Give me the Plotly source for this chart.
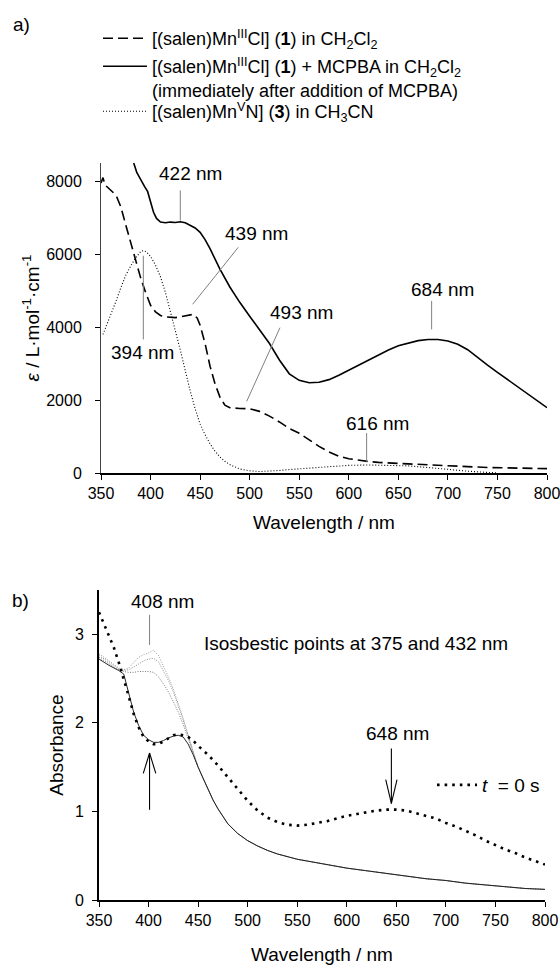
import plotly.graph_objects as go

# ---------------- Panel a) data ----------------
wl_dash = [350, 352, 354, 358, 362, 366, 370, 375, 380, 385, 390, 395, 400, 405, 410, 415, 420, 425,
           430, 435, 440, 443, 447, 450, 455, 460, 465, 470, 475, 480, 490, 500, 510, 520, 530, 540,
           550, 560, 570, 580, 590, 600, 610, 620, 630, 640, 660, 680, 700, 720, 740, 760, 780, 800]
eps_dash = [7950, 8100, 7900, 7800, 7700, 7560, 7300, 6800, 6300, 5800, 5350, 4950, 4600, 4420, 4320,
            4280, 4260, 4260, 4280, 4310, 4350, 4350, 4250, 4050, 3550, 2930, 2450, 2080, 1860, 1790,
            1770, 1760, 1690, 1560, 1400, 1220, 1090, 900, 730, 580, 460, 390, 345, 315, 290, 270, 250,
            225, 195, 168, 150, 140, 130, 120]

wl_solid = [383, 386, 388, 391, 394, 397, 400, 403, 406, 410, 415, 420, 425, 430, 435, 440, 445, 450,
            455, 460, 465, 470, 480, 490, 500, 510, 520, 530, 540, 550, 560, 570, 580, 590, 600, 610,
            620, 630, 640, 650, 660, 670, 680, 690, 700, 710, 720, 730, 740, 750, 760, 770, 780, 790, 800]
eps_solid = [8500, 8250, 8150, 7980, 7850, 7720, 7400, 7150, 6980, 6880, 6860, 6880, 6870, 6890, 6860,
             6800, 6720, 6600, 6400, 6150, 5870, 5590, 5100, 4680, 4300, 3930, 3550, 3100, 2720, 2540,
             2475, 2490, 2560, 2680, 2820, 2950, 3090, 3230, 3370, 3490, 3570, 3630, 3660, 3660, 3620,
             3530, 3380, 3160, 2960, 2760, 2570, 2380, 2180, 1980, 1790]

wl_dot = [352, 355, 360, 365, 370, 375, 380, 385, 390, 393, 396, 400, 405, 410, 415, 420, 425, 430,
          435, 440, 445, 450, 455, 460, 465, 470, 475, 480, 490, 500, 510, 520, 530, 540, 550, 560,
          570, 580, 590, 600, 620, 640, 660, 680, 700, 720, 740, 750]
eps_dot = [3800, 4000, 4350, 4700, 5080, 5420, 5680, 5900, 6070, 6100, 6060, 5940, 5700, 5380, 4950,
           4450, 3900, 3370, 2800, 2250, 1760, 1340, 1050, 800, 600, 440, 320, 230, 110, 60, 40, 50,
           70, 95, 115, 140, 160, 180, 195, 210, 220, 215, 195, 150, 95, 50, 15, 5]

# ---------------- Panel b) data ----------------
wl_early = [350, 355, 360, 365, 370, 375, 380, 385, 390, 395, 400, 405, 410, 415, 420, 425, 430, 435,
            440, 445, 450, 455, 460]
abs_a = [2.78, 2.74, 2.70, 2.66, 2.62, 2.60, 2.62, 2.68, 2.74, 2.77, 2.79, 2.82, 2.76, 2.64, 2.52,
         2.38, 2.22, 2.05, 1.86, 1.67, 1.50, 1.37, 1.25]
abs_b = [2.76, 2.72, 2.68, 2.64, 2.61, 2.59, 2.60, 2.63, 2.67, 2.70, 2.72, 2.73, 2.69, 2.59, 2.48,
         2.35, 2.20, 2.03, 1.85, 1.67, 1.50, 1.37, 1.25]
abs_c = [2.74, 2.70, 2.66, 2.63, 2.60, 2.58, 2.57, 2.57, 2.58, 2.58, 2.58, 2.57, 2.52, 2.44, 2.35,
         2.24, 2.12, 1.98, 1.82, 1.66, 1.50, 1.37, 1.25]
abs_d = [2.72, 2.68, 2.65, 2.62, 2.59, 2.55, 2.32, 2.12, 1.97, 1.86, 1.81, 1.78, 1.78, 1.80, 1.83,
         1.85, 1.86, 1.84, 1.76, 1.64, 1.50, 1.37, 1.25]
wl_tail = [465, 470, 475, 480, 490, 500, 510, 520, 530, 540, 550, 560, 570, 580, 600, 620, 640, 660,
           680, 700, 720, 740, 760, 780, 800]
abs_tail = [1.13, 1.03, 0.94, 0.86, 0.75, 0.67, 0.61, 0.56, 0.52, 0.49, 0.46, 0.44, 0.42, 0.40, 0.36,
            0.33, 0.30, 0.27, 0.24, 0.22, 0.19, 0.17, 0.15, 0.13, 0.12]

wl_t0 = [350, 355, 360, 365, 370, 375, 380, 385, 390, 395, 400, 405, 410, 415, 420, 425, 430, 435,
         440, 445, 450, 460, 470, 480, 490, 500, 510, 520, 530, 540, 550, 560, 570, 580, 590, 600,
         610, 620, 630, 640, 650, 660, 670, 680, 690, 700, 710, 720, 730, 740, 750, 760, 770, 780,
         790, 800]
abs_t0 = [3.25, 3.12, 3.00, 2.85, 2.68, 2.50, 2.30, 2.10, 1.95, 1.84, 1.79, 1.76, 1.76, 1.79, 1.83,
          1.86, 1.87, 1.86, 1.84, 1.80, 1.74, 1.64, 1.52, 1.39, 1.25, 1.12, 1.01, 0.93, 0.88, 0.85,
          0.84, 0.85, 0.87, 0.89, 0.92, 0.95, 0.97, 0.99, 1.01, 1.02, 1.02, 1.01, 0.98, 0.95, 0.92,
          0.87, 0.83, 0.78, 0.73, 0.67, 0.62, 0.57, 0.53, 0.48, 0.44, 0.40]

x_ticks = [350, 400, 450, 500, 550, 600, 650, 700, 750, 800]
eps_ticks = [0, 2000, 4000, 6000, 8000]
abs_ticks = [0, 1, 2, 3]

FONT = "Liberation Sans, Arial, sans-serif"
W, H = 560, 965

fig = go.Figure()

leg_names = [
    "[(salen)Mn<sup>III</sup>Cl] (<b>1</b>) in CH<sub>2</sub>Cl<sub>2</sub>",
    "[(salen)Mn<sup>III</sup>Cl] (<b>1</b>) + MCPBA in CH<sub>2</sub>Cl<sub>2</sub>",
    "[(salen)Mn<sup>V</sup>N] (<b>3</b>) in CH<sub>3</sub>CN",
]
leg_note = "(immediately after addition of MCPBA)"

fig.add_trace(go.Scatter(x=wl_dash, y=eps_dash, mode="lines", name=leg_names[0],
                         line=dict(color="black", width=1.6, dash="10px,5px"),
                         xaxis="x", yaxis="y", legend="legend"))
fig.add_trace(go.Scatter(x=wl_solid, y=eps_solid, mode="lines", name=leg_names[1],
                         line=dict(color="black", width=1.6),
                         xaxis="x", yaxis="y", legend="legend3"))
fig.add_trace(go.Scatter(x=wl_dot, y=eps_dot, mode="lines", name=leg_names[2],
                         line=dict(color="black", width=1.1, dash="1px,2px"),
                         xaxis="x", yaxis="y", legend="legend4"))

for vals, col, wd, ds in [(abs_a, "#9a9a9a", 1.0, "1px,1.5px"), (abs_b, "#8a8a8a", 1.0, "1px,1.5px"),
                          (abs_c, "#7a7a7a", 1.0, "1px,1.5px"), (abs_d, "#111111", 0.9, "solid")]:
    fig.add_trace(go.Scatter(x=wl_early + wl_tail, y=vals + abs_tail, mode="lines",
                             line=dict(color=col, width=wd, dash=ds), showlegend=False,
                             xaxis="x2", yaxis="y2"))

fig.add_trace(go.Scatter(x=wl_t0, y=abs_t0, mode="lines", name="<i>t</i>  = 0 s",
                         line=dict(color="black", width=2.6, dash="2.6px,5px"),
                         xaxis="x2", yaxis="y2", legend="legend2"))

axis_common = dict(showgrid=False, zeroline=False, showline=True, automargin=False,
                   ticks="outside", ticklen=5, tickcolor="black", tickwidth=1,
                   ticklabeloverflow="allow",
                   tickfont=dict(size=16, color="black", family=FONT))

LEG_SIZE = 18
leg_common = dict(xanchor="left", yanchor="top", bgcolor="rgba(0,0,0,0)", borderwidth=0,
                  font=dict(size=LEG_SIZE, family=FONT, color="black"),
                  tracegroupgap=0, valign="middle")

fig.update_layout(
    template="none",
    width=W, height=H,
    margin=dict(l=0, r=0, t=0, b=0),
    paper_bgcolor="white", plot_bgcolor="white",
    font=dict(family=FONT, color="black", size=19),
    xaxis=dict(domain=[101 / W, 547 / W], anchor="y", range=[350, 800], tickvals=x_ticks,
               linewidth=2, linecolor="black",
               title=dict(text="Wavelength / nm", font=dict(size=19), standoff=14),
               **axis_common),
    yaxis=dict(domain=[1 - 473 / H, 1 - 163 / H], anchor="x", range=[0, 8500], tickvals=eps_ticks,
               linewidth=1, linecolor="#444", ticklabelstandoff=10,
               title=dict(text="<i>ε</i> / L·mol<sup>-1</sup>·cm<sup>-1</sup>", font=dict(size=19), standoff=1),
               **axis_common),
    xaxis2=dict(domain=[99 / W, 545 / W], anchor="y2", range=[350, 800], tickvals=x_ticks,
                linewidth=2, linecolor="black",
                title=dict(text="Wavelength / nm", font=dict(size=19), standoff=30),
                **axis_common),
    yaxis2=dict(domain=[1 - 900 / H, 1 - 590 / H], anchor="x2", range=[0, 3.5], tickvals=abs_ticks,
                linewidth=2, linecolor="black", ticklabelstandoff=5,
                title=dict(text="Absorbance", font=dict(size=19), standoff=6),
                **axis_common),
    legend=dict(x=98 / W, y=1 - 20 / H, itemwidth=44, **leg_common),
    legend3=dict(x=98 / W, y=1 - 48 / H, itemwidth=44, **leg_common),
    legend4=dict(x=98 / W, y=1 - 93 / H, itemwidth=44, **leg_common),
    legend2=dict(x=432 / W, y=1 - 766 / H, itemwidth=40,
                 **{**leg_common, "font": dict(size=19, family=FONT, color="black")}),
)

ann_font = dict(size=19, family=FONT, color="black")
annotations = [
    dict(text="a)", x=21 / W, y=1 - 24 / H, xref="paper", yref="paper"),
    dict(text="b)", x=20 / W, y=1 - 600 / H, xref="paper", yref="paper"),
    dict(text="422 nm", x=440, y=8210, xref="x", yref="y"),
    dict(text="439 nm", x=507, y=6555, xref="x", yref="y"),
    dict(text="394 nm", x=392, y=3296, xref="x", yref="y"),
    dict(text="493 nm", x=552, y=4398, xref="x", yref="y"),
    dict(text="684 nm", x=695, y=5040, xref="x", yref="y"),
    dict(text="616 nm", x=629, y=1368, xref="x", yref="y"),
    dict(text="408 nm", x=414, y=3.37, xref="x2", yref="y2"),
    dict(text="Isosbestic points at 375 and 432 nm", x=609, y=2.90, xref="x2", yref="y2"),
    dict(text="648 nm", x=651, y=1.88, xref="x2", yref="y2"),
]
for a in annotations:
    a.update(showarrow=False, font=ann_font, xanchor="center", yanchor="middle")
annotations.append(dict(text=leg_note, x=151 / W, y=1 - 90.5 / H, xref="paper", yref="paper",
                        showarrow=False, font=dict(size=LEG_SIZE, family=FONT, color="black"),
                        xanchor="left", yanchor="middle", borderpad=0))
fig.update_layout(annotations=annotations)

gray = dict(color="#808080", width=1)
blk = dict(color="black", width=1.1)
shapes = [
    # panel a leader lines
    dict(type="line", xref="x", yref="y", x0=430, x1=430, y0=7747, y1=6921, line=gray),
    dict(type="line", xref="x", yref="y", x0=488.5, x1=442.5, y0=6188, y1=4627, line=gray),
    dict(type="line", xref="x", yref="y", x0=392.7, x1=392.7, y0=5957, y1=3663, line=gray),
    dict(type="line", xref="x", yref="y", x0=530.6, x1=497, y0=3985, y1=1964, line=gray),
    dict(type="line", xref="x", yref="y", x0=683.6, x1=683.6, y0=4718, y1=3938, line=gray),
    dict(type="line", xref="x", yref="y", x0=618, x1=618, y0=1093, y1=311, line=gray),
    # panel b leader + arrows
    dict(type="line", xref="x2", yref="y2", x0=401, x1=401, y0=3.22, y1=2.88, line=gray),
    dict(type="line", xref="x2", yref="y2", x0=401, x1=401, y0=1.02, y1=1.66, line=blk),
    dict(type="line", xref="x2", yref="y2", x0=401, x1=394.7, y0=1.66, y1=1.43, line=blk),
    dict(type="line", xref="x2", yref="y2", x0=401, x1=407.3, y0=1.66, y1=1.43, line=blk),
    dict(type="line", xref="x2", yref="y2", x0=645, x1=645, y0=1.71, y1=1.09, line=blk),
    dict(type="line", xref="x2", yref="y2", x0=645, x1=639.3, y0=1.09, y1=1.36, line=blk),
    dict(type="line", xref="x2", yref="y2", x0=645, x1=650.7, y0=1.09, y1=1.36, line=blk),
]
fig.update_layout(shapes=shapes)

fig.write_html("out.html")
